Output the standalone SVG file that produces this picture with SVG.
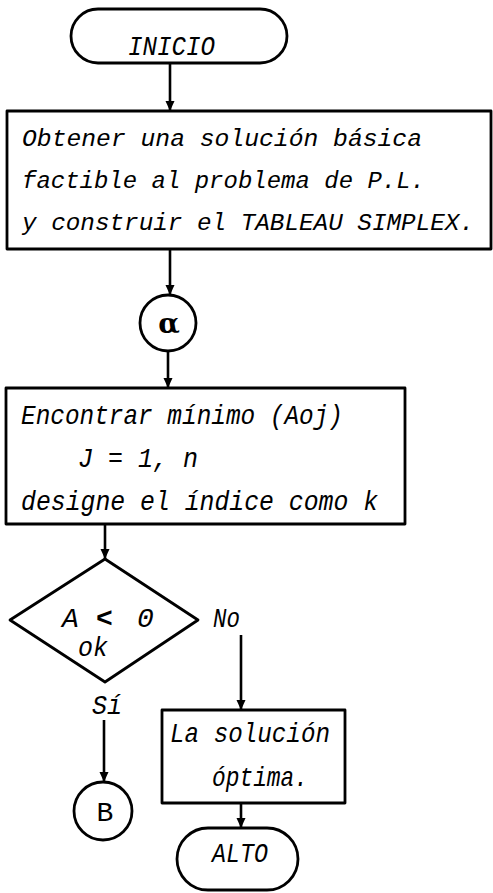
<svg xmlns="http://www.w3.org/2000/svg" width="493" height="893" viewBox="0 0 493 893">
<style>
  .shape{fill:none;stroke:#000;stroke-width:2.8;stroke-linejoin:round}
  .conn{fill:none;stroke:#000;stroke-width:2.6}
  .t{font-family:"Liberation Mono","DejaVu Sans Mono",monospace;font-style:italic;font-size:28px;fill:#000}
  .s{font-size:24.5px}
</style>
<defs>
  <marker id="ah" viewBox="0 0 10 10" refX="10" refY="5" markerWidth="10" markerHeight="10" markerUnits="userSpaceOnUse" orient="auto">
    <path d="M0,0.5 L10,5 L0,9.5 z" fill="#000"/>
  </marker>
</defs>
<rect width="493" height="893" fill="#fff"/>

<g id="connectors">
  <line class="conn" x1="170" y1="63" x2="170" y2="111" marker-end="url(#ah)"/>
  <line class="conn" x1="170" y1="249" x2="170" y2="295" marker-end="url(#ah)"/>
  <line class="conn" x1="168" y1="351" x2="168" y2="388" marker-end="url(#ah)"/>
  <line class="conn" x1="105" y1="524" x2="105" y2="559" marker-end="url(#ah)"/>
  <line class="conn" x1="241" y1="635" x2="241" y2="710" marker-end="url(#ah)"/>
  <line class="conn" x1="104" y1="720" x2="104" y2="782" marker-end="url(#ah)"/>
  <line class="conn" x1="241" y1="803" x2="241" y2="828" marker-end="url(#ah)"/>
</g>

<g id="inicio">
  <rect class="shape" x="71" y="9" width="216" height="54" rx="27"/>
  <text class="t" x="128" y="55" textLength="87" lengthAdjust="spacingAndGlyphs">INICIO</text>
</g>

<g id="obtener">
  <rect class="shape" x="7" y="111" width="484" height="138"/>
  <text class="t s" x="22" y="146" textLength="400" lengthAdjust="spacingAndGlyphs">Obtener una solución básica</text>
  <text class="t s" x="22" y="188" textLength="403" lengthAdjust="spacingAndGlyphs">factible al problema de P.L.</text>
  <text class="t s" x="22" y="230" textLength="452" lengthAdjust="spacingAndGlyphs">y construir el TABLEAU SIMPLEX.</text>
</g>

<g id="alpha">
  <circle class="shape" cx="168" cy="323" r="28"/>
  <text x="169" y="333" text-anchor="middle" style="font-family:'DejaVu Serif',serif;font-size:28px;font-weight:bold">α</text>
</g>

<g id="encontrar">
  <rect class="shape" x="6" y="388" width="399" height="136"/>
  <text class="t" x="21" y="424" textLength="322" lengthAdjust="spacingAndGlyphs">Encontrar mínimo (Aoj)</text>
  <text class="t" x="78" y="467" textLength="120" lengthAdjust="spacingAndGlyphs">J = 1, n</text>
  <text class="t" x="21" y="510" textLength="357" lengthAdjust="spacingAndGlyphs">designe el índice como k</text>
</g>

<g id="decision">
  <polygon class="shape" points="105,559 198,620 105,682 10,620"/>
  <text class="t" y="627"><tspan x="62">A</tspan><tspan x="96" font-weight="bold">&lt;</tspan><tspan x="137">0</tspan></text>
  <text class="t" x="78" y="656" textLength="30" lengthAdjust="spacingAndGlyphs">ok</text>
  <text class="t" x="213" y="627" textLength="27" lengthAdjust="spacingAndGlyphs">No</text>
  <text class="t" x="92" y="714" textLength="30" lengthAdjust="spacingAndGlyphs">Sí</text>
</g>

<g id="b">
  <circle class="shape" cx="103" cy="811" r="29"/>
  <text class="t" x="105" y="821" text-anchor="middle" style="font-style:normal">B</text>
</g>

<g id="solucion">
  <rect class="shape" x="162" y="710" width="183" height="93"/>
  <text class="t" x="170" y="742" textLength="160" lengthAdjust="spacingAndGlyphs">La solución</text>
  <text class="t" x="212" y="786" textLength="96" lengthAdjust="spacingAndGlyphs">óptima.</text>
</g>

<g id="alto">
  <rect class="shape" x="177" y="828" width="121" height="62" rx="31"/>
  <text class="t" x="212" y="862" textLength="56" lengthAdjust="spacingAndGlyphs">ALTO</text>
</g>
</svg>
